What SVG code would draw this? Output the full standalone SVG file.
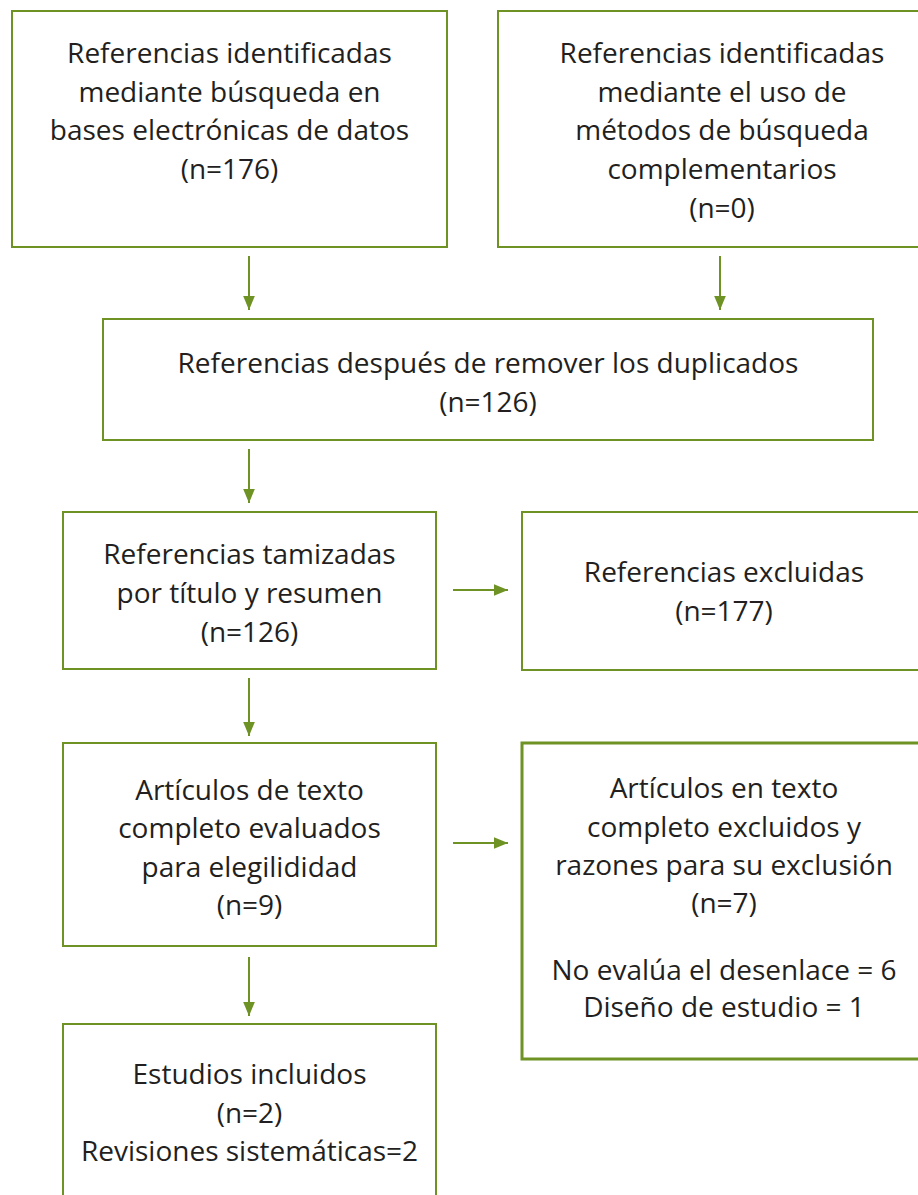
<svg xmlns="http://www.w3.org/2000/svg" width="918" height="1195" viewBox="0 0 918 1195">
<defs>
<style>
.box{fill:#fff;stroke:#6f9224;stroke-width:2}
.thick{stroke-width:3}
.t{font-family:"Open Sans","Noto Sans","Liberation Sans",sans-serif;font-size:28px;fill:#231f20;text-anchor:middle}
.c{stroke:#6f9224;stroke-width:2;fill:none;marker-end:url(#ah)}
</style>
<marker id="ah" viewBox="0 0 12 10" refX="12" refY="5" markerWidth="7" markerHeight="6" markerUnits="strokeWidth" orient="auto">
<path d="M0,0 L12,5 L0,10 z" fill="#6f9224"/>
</marker>
</defs>
<rect width="918" height="1195" fill="#fff"/>
<g id="n1">
<rect class="box" x="12" y="11" width="435" height="236"/>
<text class="t" x="229.5" y="63">Referencias identificadas</text>
<text class="t" x="229.5" y="102">mediante búsqueda en</text>
<text class="t" x="229.5" y="140">bases electrónicas de datos</text>
<text class="t" x="229.5" y="179">(n=176)</text>
</g>
<g id="n2">
<rect class="box" x="498" y="11" width="450" height="236"/>
<text class="t" x="722" y="63">Referencias identificadas</text>
<text class="t" x="722" y="102">mediante el uso de</text>
<text class="t" x="722" y="140">métodos de búsqueda</text>
<text class="t" x="722" y="179">complementarios</text>
<text class="t" x="722" y="218">(n=0)</text>
</g>
<g id="n3">
<rect class="box" x="103" y="319" width="770" height="121"/>
<text class="t" x="488" y="373">Referencias después de remover los duplicados</text>
<text class="t" x="488" y="412">(n=126)</text>
</g>
<g id="n4">
<rect class="box" x="63" y="512" width="373" height="157"/>
<text class="t" x="249.5" y="564">Referencias tamizadas</text>
<text class="t" x="249.5" y="603">por título y resumen</text>
<text class="t" x="249.5" y="642">(n=126)</text>
</g>
<g id="n5">
<rect class="box" x="522" y="512" width="420" height="158"/>
<text class="t" x="724" y="582">Referencias excluidas</text>
<text class="t" x="724" y="621">(n=177)</text>
</g>
<g id="n6">
<rect class="box" x="63" y="743" width="373" height="203"/>
<text class="t" x="249.5" y="800">Artículos de texto</text>
<text class="t" x="249.5" y="838">completo evaluados</text>
<text class="t" x="249.5" y="877">para elegilididad</text>
<text class="t" x="249.5" y="915">(n=9)</text>
</g>
<g id="n7">
<rect class="box thick" x="522" y="743" width="420" height="316"/>
<text class="t" x="724" y="798">Artículos en texto</text>
<text class="t" x="724" y="837">completo excluidos y</text>
<text class="t" x="724" y="875">razones para su exclusión</text>
<text class="t" x="724" y="913">(n=7)</text>
<text class="t" x="724" y="980">No evalúa el desenlace = 6</text>
<text class="t" x="724" y="1017">Diseño de estudio = 1</text>
</g>
<g id="n8">
<rect class="box" x="63" y="1024" width="373" height="200"/>
<text class="t" x="249.5" y="1084">Estudios incluidos</text>
<text class="t" x="249.5" y="1123">(n=2)</text>
<text class="t" x="249.5" y="1161">Revisiones sistemáticas=2</text>
</g>
<g id="connectors">
<line class="c" x1="249" y1="256" x2="249" y2="310"/>
<line class="c" x1="720" y1="256" x2="720" y2="310"/>
<line class="c" x1="249" y1="449" x2="249" y2="503"/>
<line class="c" x1="249" y1="678" x2="249" y2="736"/>
<line class="c" x1="249" y1="957" x2="249" y2="1016"/>
<line class="c" x1="453" y1="590" x2="508" y2="590"/>
<line class="c" x1="453" y1="843" x2="508" y2="843"/>
</g>
</svg>
